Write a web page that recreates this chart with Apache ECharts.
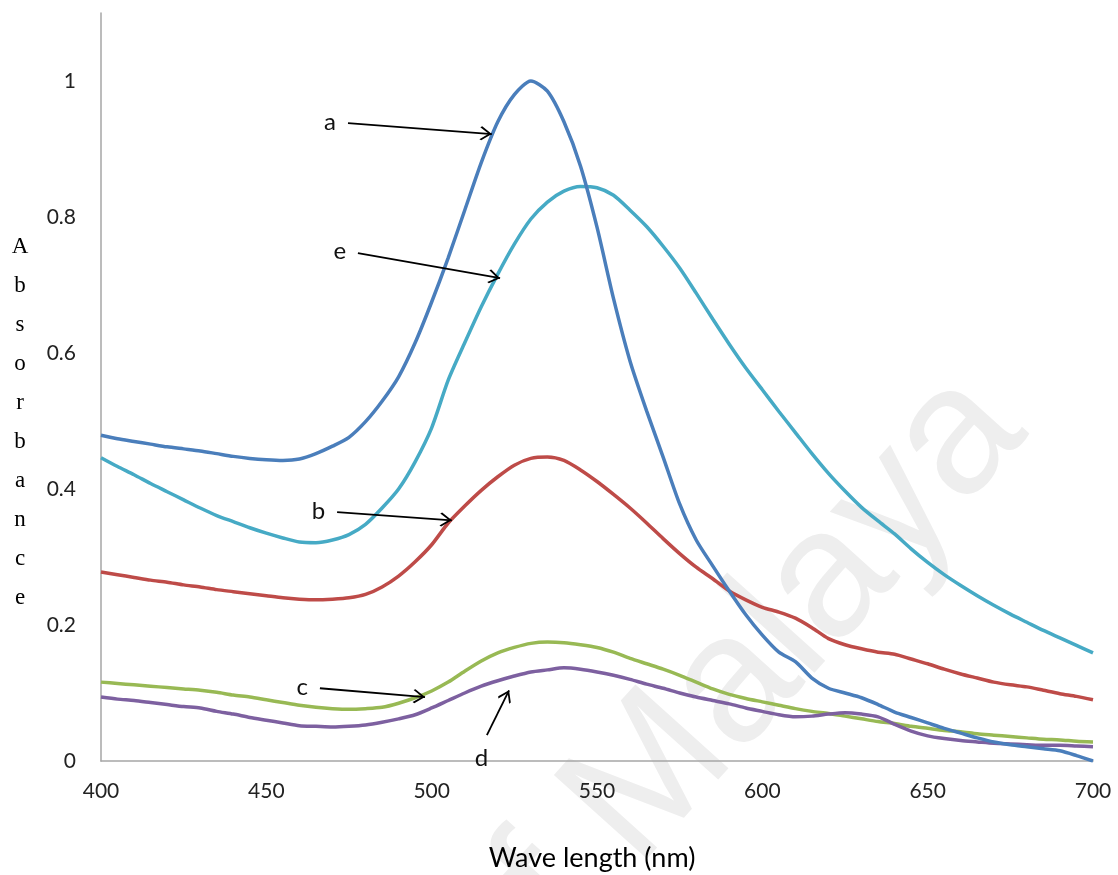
<!DOCTYPE html>
<html>
<head>
<meta charset="utf-8">
<script src="https://cdn.jsdelivr.net/npm/echarts@6/dist/echarts.min.js"></script>
<style>
  html, body { margin: 0; padding: 0; background: #ffffff; }
  #chart { width: 1118px; height: 875px; }
</style>
</head>
<body>
<div id="chart"></div>
<script>
// Wavelength grid (nm)
const wavelength = [
  400, 405, 410, 415, 420, 425, 430, 435, 440, 445,
  450, 455, 460, 465, 470, 475, 480, 485, 490, 495,
  500, 505, 510, 515, 520, 525, 530, 535, 540, 545,
  550, 555, 560, 565, 570, 575, 580, 585, 590, 595,
  600, 605, 610, 615, 620, 625, 630, 635, 640, 645,
  650, 655, 660, 665, 670, 675, 680, 685, 690, 695, 700
];

// Absorbance spectra, samples a–e
const absA = [
  0.479, 0.474, 0.470, 0.466, 0.462, 0.459, 0.456, 0.452, 0.448, 0.445,
  0.443, 0.442, 0.444, 0.452, 0.463, 0.476, 0.499, 0.529, 0.565, 0.615,
  0.675, 0.740, 0.810, 0.880, 0.940, 0.980, 1.000, 0.985, 0.940, 0.875,
  0.785, 0.680, 0.588, 0.515, 0.447, 0.378, 0.325, 0.287, 0.250, 0.215,
  0.185, 0.160, 0.146, 0.122, 0.107, 0.100, 0.093, 0.083, 0.072, 0.064,
  0.056, 0.048, 0.041, 0.034, 0.028, 0.024, 0.021, 0.018, 0.015, 0.008, 0.000
];
const absB = [
  0.278, 0.274, 0.270, 0.266, 0.263, 0.259, 0.256, 0.252, 0.249, 0.246,
  0.243, 0.240, 0.238, 0.237, 0.238, 0.240, 0.245, 0.256, 0.272, 0.293,
  0.318, 0.350, 0.375, 0.398, 0.418, 0.435, 0.445, 0.447, 0.442, 0.428,
  0.411, 0.392, 0.372, 0.350, 0.327, 0.305, 0.285, 0.268, 0.250, 0.237,
  0.226, 0.219, 0.210, 0.196, 0.180, 0.171, 0.165, 0.160, 0.157, 0.150,
  0.143, 0.135, 0.128, 0.122, 0.116, 0.112, 0.109, 0.104, 0.099, 0.095, 0.090
];
const absC = [
  0.116, 0.114, 0.112, 0.110, 0.108, 0.106, 0.104, 0.101, 0.097, 0.094,
  0.090, 0.086, 0.082, 0.079, 0.077, 0.076, 0.077, 0.079, 0.085, 0.093,
  0.103, 0.116, 0.132, 0.147, 0.159, 0.167, 0.173, 0.175, 0.174, 0.171,
  0.167, 0.160, 0.151, 0.143, 0.135, 0.126, 0.116, 0.106, 0.098, 0.092,
  0.087, 0.082, 0.077, 0.073, 0.070, 0.066, 0.062, 0.058, 0.055, 0.051,
  0.048, 0.045, 0.043, 0.040, 0.038, 0.036, 0.034, 0.032, 0.031, 0.029, 0.028
];
const absD = [
  0.094, 0.091, 0.089, 0.086, 0.083, 0.080, 0.078, 0.073, 0.069, 0.064,
  0.060, 0.056, 0.052, 0.051, 0.050, 0.051, 0.053, 0.057, 0.062, 0.068,
  0.078, 0.089, 0.100, 0.110, 0.118, 0.125, 0.131, 0.134, 0.137, 0.135,
  0.131, 0.126, 0.120, 0.113, 0.107, 0.100, 0.094, 0.089, 0.084, 0.078,
  0.073, 0.068, 0.065, 0.066, 0.069, 0.071, 0.069, 0.065, 0.054, 0.044,
  0.037, 0.033, 0.030, 0.028, 0.026, 0.025, 0.024, 0.023, 0.023, 0.022, 0.021
];
const absE = [
  0.446, 0.433, 0.421, 0.408, 0.396, 0.384, 0.372, 0.361, 0.352, 0.343,
  0.335, 0.328, 0.322, 0.321, 0.325, 0.333, 0.348, 0.372, 0.400, 0.440,
  0.490, 0.560, 0.615, 0.668, 0.716, 0.760, 0.797, 0.822, 0.838, 0.845,
  0.843, 0.832, 0.810, 0.786, 0.757, 0.725, 0.688, 0.650, 0.613, 0.578,
  0.546, 0.514, 0.483, 0.452, 0.423, 0.397, 0.373, 0.353, 0.334, 0.312,
  0.292, 0.274, 0.258, 0.243, 0.229, 0.216, 0.204, 0.192, 0.181, 0.170, 0.159
];

// Axis ticks
const xTicks = [400, 450, 500, 550, 600, 650, 700];
const yTickLabels = ['0', '0.2', '0.4', '0.6', '0.8', '1'];

// Sample letters with their pointer arrows, in data units: [from, to]
const pointerLetters = ['a', 'e', 'b', 'c', 'd'];
const pointerFrom = [[474.7, 0.938], [477.7, 0.747], [471.4, 0.366], [466.2, 0.107], [516.7, 0.038]];
const pointerTo   = [[518.2, 0.922], [520.7, 0.710], [506.1, 0.354], [498.0, 0.094], [523.4, 0.104]];

const colors = { a: '#4a7ebb', b: '#be4b48', c: '#98b954', d: '#7d60a0', e: '#46aac5' };

const textFont = 'Lato, "Open Sans", sans-serif';
const openArrow = 'path://M10,0 L20,8.5 L18.6,10 L10,2.6 L1.4,10 L0,8.5 Z';

function pointerFor(letter) {
  const i = pointerLetters.indexOf(letter);
  return {
    silent: true,
    symbol: ['none', openArrow],
    symbolSize: [14, 12],
    symbolOffset: [0, [0, 6]],
    lineStyle: { color: '#000000', width: 1.8, type: 'solid' },
    label: {
      show: true,
      position: 'start',
      distance: 12,
      formatter: letter,
      color: '#111111',
      fontFamily: textFont,
      fontSize: 24
    },
    emphasis: { disabled: true },
    data: [[{ coord: pointerFrom[i] }, { coord: pointerTo[i] }]]
  };
}

function spectrum(letter, values) {
  return {
    name: letter,
    type: 'line',
    data: wavelength.map((w, i) => [w, values[i]]),
    showSymbol: false,
    smooth: 0.25,
    lineStyle: { color: colors[letter], width: 3.5 },
    itemStyle: { color: colors[letter] },
    emphasis: { disabled: true },
    markLine: pointerFor(letter)
  };
}

const chart = echarts.init(document.getElementById('chart'), null, { renderer: 'canvas' });

chart.setOption({
  animation: false,
  backgroundColor: '#ffffff',
  grid: { left: 101, right: 25, top: 13, bottom: 114 },
  xAxis: {
    type: 'value',
    min: xTicks[0],
    max: xTicks[xTicks.length - 1],
    interval: xTicks[1] - xTicks[0],
    axisLine: { show: true, lineStyle: { color: '#a6a6a6', width: 1.5 } },
    axisTick: { show: false },
    splitLine: { show: false },
    axisLabel: { margin: 20, color: '#222222', fontFamily: textFont, fontSize: 21 }
  },
  yAxis: {
    type: 'value',
    min: 0,
    max: 1.1,
    interval: 0.1,
    axisLine: { show: true, lineStyle: { color: '#a6a6a6', width: 1.5 } },
    axisTick: { show: false },
    splitLine: { show: false },
    axisLabel: {
      margin: 25,
      color: '#222222',
      fontFamily: textFont,
      fontSize: 21,
      formatter: function (v) {
        const k = Math.round(v * 10);
        return k % 2 === 0 ? (yTickLabels[k / 2] || '') : '';
      }
    }
  },
  graphic: [
    {
      type: 'text',
      z: 0,
      silent: true,
      x: 1060,
      y: 461,
      rotation: 48 * Math.PI / 180,
      style: {
        text: 'University of Malaya',
        fill: '#eeeeee',
        font: '182px "Liberation Sans", Arial, sans-serif',
        align: 'right',
        verticalAlign: 'bottom'
      }
    },
    {
      type: 'text',
      silent: true,
      x: 20,
      y: 227,
      style: {
        text: 'A\nb\ns\no\nr\nb\na\nn\nc\ne',
        fill: '#000000',
        font: '23px "Liberation Serif", "Times New Roman", serif',
        lineHeight: 39,
        align: 'center',
        verticalAlign: 'top'
      }
    },
    {
      type: 'text',
      silent: true,
      x: 592,
      y: 858,
      style: {
        text: 'Wave length (nm)',
        fill: '#000000',
        font: '27px ' + textFont,
        align: 'center',
        verticalAlign: 'middle'
      }
    }
  ],
  series: [
    spectrum('e', absE),
    spectrum('b', absB),
    spectrum('c', absC),
    spectrum('d', absD),
    spectrum('a', absA)
  ]
});
</script>
</body>
</html>
